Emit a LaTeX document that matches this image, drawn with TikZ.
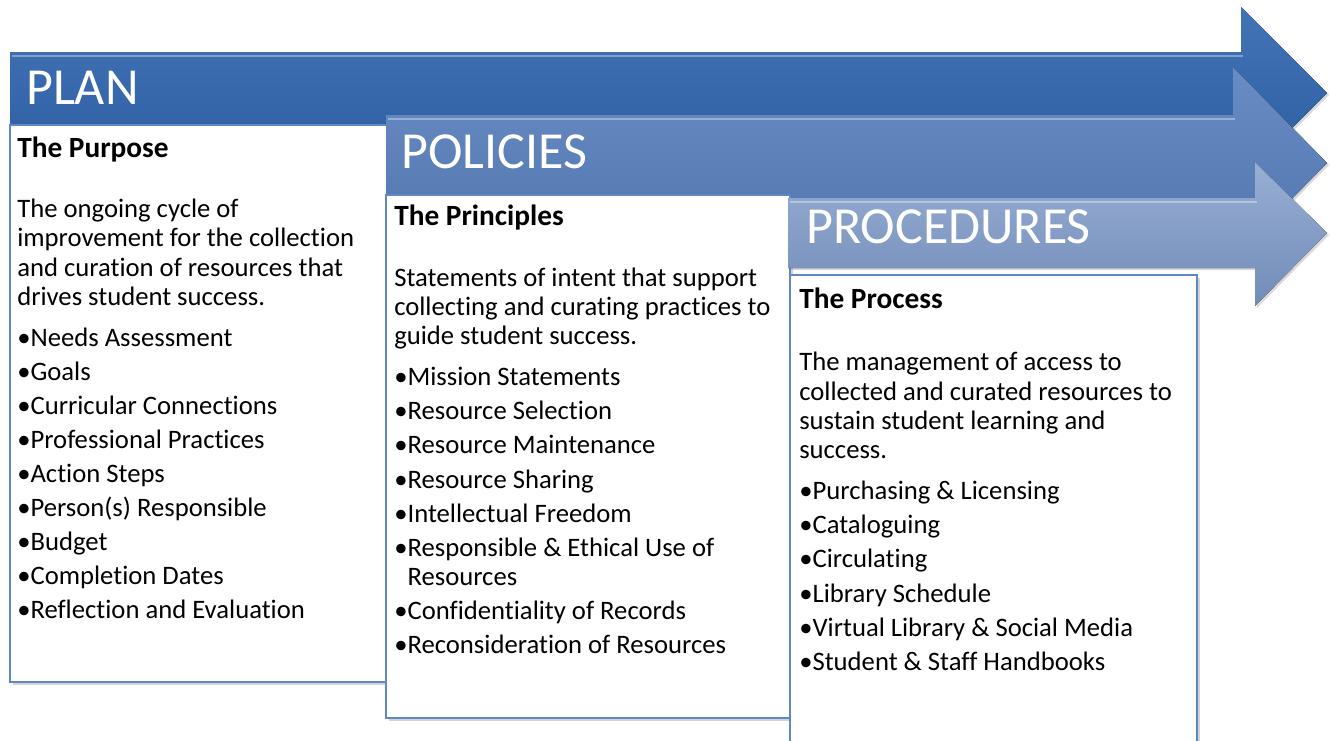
\documentclass[tikz,border=0pt]{standalone}
\usepackage{fontspec}
\setmainfont{Carlito}[Ligatures={NoCommon}]
\usepackage{tikz}
\usetikzlibrary{shadows}

\definecolor{plantop}{RGB}{66,116,184}
\definecolor{planbot}{RGB}{44,92,158}
\definecolor{poltop}{RGB}{104,140,195}
\definecolor{polbot}{RGB}{80,116,172}
\definecolor{proctop}{RGB}{152,175,212}
\definecolor{procbot}{RGB}{114,140,184}
\definecolor{boxedge}{RGB}{96,136,196}

\tikzset{
  banner/.style={drop shadow={shadow xshift=1.5pt, shadow yshift=-1.5pt, opacity=0.3}},
  bevel/.style={draw=white, draw opacity=0.35, line width=1.5pt},
  heading/.style={anchor=base west, inner sep=0pt, text=white, font=\fontsize{39}{44}\selectfont},
  textbox/.style={draw=boxedge, line width=1.5pt, fill=white,
    drop shadow={shadow xshift=2pt, shadow yshift=-2pt, opacity=0.35}},
  textline/.style={anchor=base west, inner sep=0pt, font=\fontsize{20}{24}\selectfont},
  boxtitle/.style={textline, font=\fontsize{22}{26}\selectfont\bfseries},
}

\begin{document}
\begin{tikzpicture}[x=0.75pt, y=-0.75pt]
  \useasboundingbox (0,0) rectangle (1331,740);

  % plan
  \fill[banner, top color=plantop, bottom color=planbot]
    (10,52) -- (1241,52) -- (1241,7) -- (1327,93) -- (1241,179) -- (1241,134) -- (10,134) -- cycle;
  \draw[bevel] (12,56) -- (1243,56);
  \node (plan) [heading] at (26,104) {PLAN};
  \draw[textbox] (10,125) rectangle (392,682);
  \node (purpose) [boxtitle] at (17,157) {The Purpose};
  \foreach \y/\t [count=\i] in {217/The ongoing cycle of,
      246.5/improvement for the collection,
      276/and curation of resources that,
      305.5/drives student success.}
    \node (purpose-p\i) [textline] at (17,\y) {\t};
  \foreach \y/\t [count=\i] in {346/Needs Assessment, 380/Goals,
      414/Curricular Connections, 448.5/Professional Practices,
      482.5/Action Steps, 516.5/Person(s) Responsible, 550.5/Budget,
      584.5/Completion Dates, 618.5/Reflection and Evaluation}
    \node (purpose-b\i) [textline] at (17,\y) {•\t};

  % policies
  \fill[banner, top color=poltop, bottom color=polbot]
    (386,115) -- (1233,115) -- (1233,67) -- (1327,163) -- (1233,259) -- (1233,211) -- (386,211) -- cycle;
  \draw[bevel] (388,119) -- (1235,119);
  \node (policies) [heading] at (401,168) {POLICIES};
  \draw[textbox] (386,195) rectangle (790,718);
  \node (principles) [boxtitle] at (394,225.5) {The Principles};
  \foreach \y/\t [count=\i] in {286.5/Statements of intent that support,
      315.5/collecting and curating practices to,
      344.5/guide student success.}
    \node (principles-p\i) [textline] at (394,\y) {\t};
  \foreach \y/\t [count=\i] in {385.5/•Mission Statements,
      419.5/•Resource Selection, 453.5/•Resource Maintenance,
      488/•Resource Sharing, 522/•Intellectual Freedom,
      556.5/•Responsible \& Ethical Use of,
      585.5/\phantom{•}Resources,
      619.5/•Confidentiality of Records,
      653.5/•Reconsideration of Resources}
    \node (principles-b\i) [textline] at (394,\y) {\t};

  % procedures
  \fill[banner, top color=proctop, bottom color=procbot]
    (788,198) -- (1255,198) -- (1255,162) -- (1327,233) -- (1255,306) -- (1255,268) -- (788,268) -- cycle;
  \draw[bevel] (790,202) -- (1257,202);
  \node (procedures) [heading] at (806,243) {PROCEDURES};
  \draw[textbox] (790,275) rectangle (1197,760);
  \node (process) [boxtitle] at (799,308.5) {The Process};
  \foreach \y/\t [count=\i] in {370.5/The management of access to,
      400.5/collected and curated resources to,
      429.5/sustain student learning and,
      458.5/success.}
    \node (process-p\i) [textline] at (799,\y) {\t};
  \foreach \y/\t [count=\i] in {499.5/Purchasing \& Licensing,
      533.5/Cataloguing, 567.5/Circulating, 602/Library Schedule,
      636/Virtual Library \& Social Media, 670/Student \& Staff Handbooks}
    \node (process-b\i) [textline] at (799,\y) {•\t};
\end{tikzpicture}
\end{document}
